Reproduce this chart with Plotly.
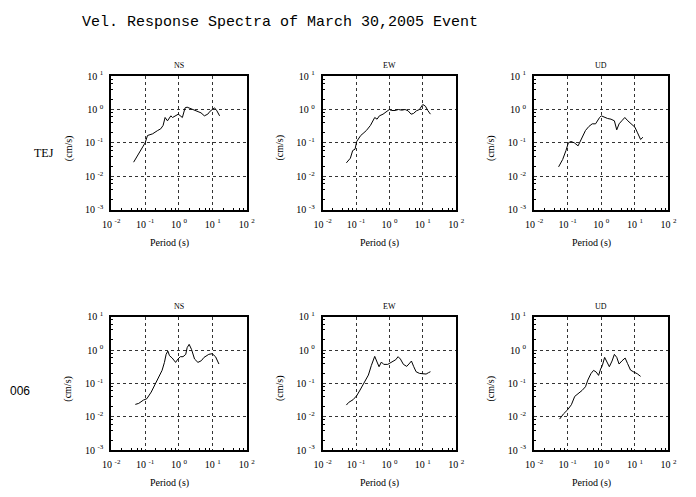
import plotly.graph_objects as go

W, H = 696, 497

title_text = "Vel. Response Spectra of March 30,2005 Event"
row_labels = ["TEJ", "006"]
comp_labels = ["NS", "EW", "UD"]
x_tickvals = [0.01, 0.1, 1, 10, 100]
x_ticktext = ["10 <sup>-2</sup>", "10 <sup>-1</sup>", "10 <sup>0</sup>", "10 <sup>1</sup>", "10 <sup>2</sup>"]
y_tickvals = [0.001, 0.01, 0.1, 1, 10]
y_ticktext = ["10 <sup>-3</sup>", "10 <sup>-2</sup>", "10 <sup>-1</sup>", "10 <sup>0</sup>", "10 <sup>1</sup>"]
minor_mults = [2, 4, 6, 8]

# values (log10 of period in s, log10 of velocity in cm/s)
tej_ns_logT = [-1.34, -1.2, -1.0, -0.93, -0.78, -0.63, -0.54, -0.47, -0.41, -0.34, -0.24, -0.19, -0.1, -0.02,
               0.1, 0.18, 0.24, 0.34, 0.44, 0.54, 0.65, 0.75, 0.85, 0.92, 1.0, 1.05, 1.12, 1.2]
tej_ns_logV = [-1.58, -1.35, -1.0, -0.78, -0.73, -0.63, -0.58, -0.48, -0.24, -0.34, -0.19, -0.24, -0.19, -0.14,
               -0.24, 0.05, 0.07, 0.03, 0.0, -0.05, -0.1, -0.19, -0.14, -0.05, 0.03, 0.05, -0.04, -0.19]

tej_ew_logT = [-1.29, -1.17, -1.1, -1.03, -0.98, -0.86, -0.79, -0.69, -0.57, -0.44, -0.37, -0.3, -0.19, -0.11,
               0.0, 0.06, 0.17, 0.27, 0.37, 0.47, 0.56, 0.65, 0.72, 0.81, 0.9, 1.0, 1.08, 1.15, 1.23]
tej_ew_logV = [-1.6, -1.46, -1.23, -1.19, -0.96, -0.78, -0.72, -0.63, -0.48, -0.24, -0.29, -0.19, -0.14, -0.09,
               0.0, -0.03, -0.03, 0.0, -0.02, 0.0, -0.04, -0.14, -0.12, -0.04, 0.0, 0.15, 0.1, -0.03, -0.14]

tej_ud_logT = [-1.27, -1.15, -1.05, -0.98, -0.9, -0.8, -0.69, -0.59, -0.47, -0.37, -0.27, -0.17, -0.12, -0.05,
               0.0, 0.1, 0.19, 0.29, 0.39, 0.46, 0.53, 0.61, 0.7, 0.79, 0.88, 1.0, 1.07, 1.17, 1.24]
tej_ud_logV = [-1.72, -1.5, -1.23, -1.0, -0.96, -1.0, -1.09, -0.87, -0.63, -0.51, -0.43, -0.43, -0.34, -0.24,
               -0.19, -0.24, -0.27, -0.29, -0.34, -0.61, -0.43, -0.34, -0.24, -0.34, -0.43, -0.53, -0.68, -0.9, -0.83]

s006_ns_logT = [-1.29, -1.19, -1.05, -0.95, -0.82, -0.7, -0.58, -0.5, -0.43, -0.38, -0.33, -0.28, -0.2, -0.1,
                -0.03, 0.04, 0.12, 0.2, 0.24, 0.3, 0.37, 0.46, 0.56, 0.66, 0.74, 0.8, 0.88, 0.98, 1.08, 1.18]
s006_ns_logV = [-1.63, -1.6, -1.5, -1.46, -1.26, -1.0, -0.76, -0.61, -0.37, -0.13, -0.03, -0.17, -0.24, -0.37,
                -0.27, -0.2, -0.2, -0.13, 0.07, 0.17, 0.02, -0.27, -0.37, -0.32, -0.22, -0.17, -0.13, -0.11, -0.2, -0.42]

s006_ew_logT = [-1.29, -1.22, -1.09, -0.98, -0.88, -0.76, -0.63, -0.54, -0.44, -0.37, -0.31, -0.24, -0.17, -0.05,
                0.07, 0.19, 0.26, 0.33, 0.42, 0.52, 0.61, 0.66, 0.73, 0.8, 0.9, 1.0, 1.1, 1.17, 1.23]
s006_ew_logV = [-1.65, -1.57, -1.49, -1.37, -1.2, -1.0, -0.75, -0.46, -0.19, -0.36, -0.5, -0.36, -0.43, -0.43,
                -0.36, -0.29, -0.2, -0.27, -0.43, -0.49, -0.39, -0.33, -0.5, -0.65, -0.7, -0.7, -0.72, -0.68, -0.65]

s006_ud_logT = [-1.24, -1.12, -1.0, -0.89, -0.79, -0.69, -0.57, -0.47, -0.4, -0.31, -0.23, -0.15, -0.08, -0.02,
                0.03, 0.1, 0.17, 0.24, 0.32, 0.39, 0.46, 0.53, 0.61, 0.71, 0.78, 0.87, 0.97, 1.07, 1.17]
s006_ud_logV = [-2.07, -1.91, -1.79, -1.64, -1.39, -1.31, -1.21, -1.1, -0.9, -0.71, -0.61, -0.66, -0.76, -0.57,
                -0.47, -0.22, -0.37, -0.5, -0.33, -0.13, -0.22, -0.42, -0.33, -0.24, -0.4, -0.6, -0.66, -0.71, -0.79]

curves = [
    [(tej_ns_logT, tej_ns_logV), (tej_ew_logT, tej_ew_logV), (tej_ud_logT, tej_ud_logV)],
    [(s006_ns_logT, s006_ns_logV), (s006_ew_logT, s006_ew_logV), (s006_ud_logT, s006_ud_logV)],
]

# panel boxes in pixels
col_x = [(105, 244), (322, 459), (539, 677)]
row_y = [(71, 208), (318, 455)]


def px(x):
    return x / W


def py(y):
    return 1 - y / H


x_minor = [m * d for d in x_tickvals[:-1] for m in minor_mults]
y_minor = [m * d for d in y_tickvals[:-1] for m in minor_mults]

fig = go.Figure()
annotations = []
serif = "Liberation Serif"

idx = 0
for r in range(2):
    for c in range(3):
        idx += 1
        xa = "xaxis" if idx == 1 else f"xaxis{idx}"
        ya = "yaxis" if idx == 1 else f"yaxis{idx}"
        xr = "x" if idx == 1 else f"x{idx}"
        yr = "y" if idx == 1 else f"y{idx}"
        lt, lv = curves[r][c]
        fig.add_trace(go.Scatter(
            x=[10 ** v for v in lt], y=[10 ** v for v in lv], mode="lines",
            line=dict(color="black", width=1), xaxis=xr, yaxis=yr, showlegend=False,
        ))
        x0, x1 = col_x[c]
        y0, y1 = row_y[r]
        common = dict(
            type="log", showline=True, linecolor="black", linewidth=2, mirror=True,
            showgrid=True, gridcolor="#333", griddash="dot", gridwidth=1,
            ticks="outside", ticklen=4, tickcolor="rgba(0,0,0,0)",
            tickfont=dict(family=serif, size=10, color="black"),
            zeroline=False, fixedrange=True,
        )
        fig.update_layout({
            xa: dict(common, domain=[px(x0), px(x1)], anchor=yr, range=[-2, 2],
                     tickvals=x_tickvals, ticktext=x_ticktext,
                     minor=dict(tickmode="array", tickvals=x_minor, ticks="inside",
                                ticklen=2, tickcolor="black", showgrid=False)),
            ya: dict(common, domain=[py(y1), py(y0)], anchor=xr, range=[-3, 1],
                     tickvals=y_tickvals, ticktext=y_ticktext,
                     minor=dict(tickmode="array", tickvals=y_minor, ticks="inside",
                                ticklen=2, tickcolor="black", showgrid=False)),
        })
        annotations.append(dict(text=comp_labels[c], x=px((x0 + x1) / 2), y=py(y0 - 4),
                                xref="paper", yref="paper", xanchor="center", yanchor="bottom",
                                showarrow=False, font=dict(family=serif, size=8, color="black")))
        annotations.append(dict(text="Period (s)", x=px((x0 + x1) / 2 - 10), y=py(y1 + 34),
                                xref="paper", yref="paper", xanchor="center", yanchor="middle",
                                showarrow=False, font=dict(family=serif, size=10, color="black")))
        annotations.append(dict(text="(cm/s)", x=px(x0 - 44), y=py((y0 + y1) / 2 + 5),
                                xref="paper", yref="paper", xanchor="center", yanchor="middle",
                                textangle=-90, showarrow=False,
                                font=dict(family=serif, size=10, color="black")))

annotations.append(dict(text=title_text, x=px(278), y=py(16), xref="paper", yref="paper",
                        xanchor="center", yanchor="middle", showarrow=False,
                        font=dict(family="Liberation Mono", size=15, color="black")))
annotations.append(dict(text=row_labels[0], x=px(36), y=py(150), xref="paper", yref="paper",
                        xanchor="center", yanchor="middle", showarrow=False,
                        font=dict(family=serif, size=12, color="black")))
annotations.append(dict(text=row_labels[1], x=px(24), y=py(394), xref="paper", yref="paper",
                        xanchor="right", yanchor="middle", showarrow=False,
                        font=dict(family="Liberation Sans", size=12, color="black")))

fig.update_layout(width=W, height=H, margin=dict(l=0, r=0, t=0, b=0),
                  paper_bgcolor="white", plot_bgcolor="white", annotations=annotations)

fig.write_html("out.html")
